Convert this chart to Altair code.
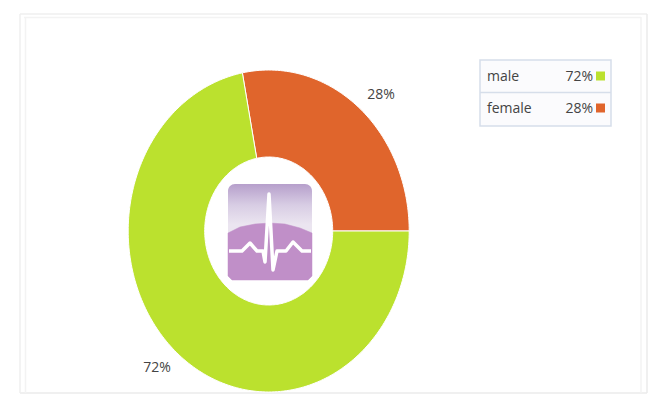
import math
import altair as alt
import pandas as pd

categories = ["female", "male"]
shares = [28, 72]
colors = ["#e0652c", "#bbe12e"]
legend_order = ["male", "female"]
legend_shares = [72, 28]
legend_colors = ["#bbe12e", "#e0652c"]

# ECG trace and dome outline of the icon
ecg_x = [229, 242, 250, 257, 263, 265, 269, 273, 277, 286, 293, 302, 311]
ecg_y = [251, 251, 243, 251, 251, 262, 194, 270, 251, 251, 242, 251, 251]
dome_x = [228, 240, 255, 270, 285, 300, 312]
dome_y = [233, 227, 224, 223, 224, 228, 233]

CX, CY, RX, RY = 268.7, 231, 140.5, 161
HX, HY = 64, 74

X = alt.X("x:Q", scale=alt.Scale(domain=[8, 661], range=[0, 653]), axis=None)
Y = alt.Y("y:Q", scale=alt.Scale(domain=[8, 402], range=[0, 394]), axis=None)


def ring_rows():
    rows, start = [], 0.0
    for cat, share in zip(categories, shares):
        sweep = share / sum(shares) * 2 * math.pi
        n = max(3, int(share * 3))
        angs = [start + sweep * i / n for i in range(n + 1)]
        pts = [(CX + RX * math.cos(a), CY - RY * math.sin(a)) for a in angs]
        pts += [(CX + HX * math.cos(a), CY - HY * math.sin(a)) for a in reversed(angs)]
        pts.append(pts[0])
        rows += [{"cat": cat, "i": i, "x": p[0], "y": p[1]} for i, p in enumerate(pts)]
        start += sweep
    return pd.DataFrame(rows)


def frame(x0, y0, x1, y1, color, fill=None):
    kw = {"fill": fill} if fill else {"fillOpacity": 0}
    return alt.Chart(pd.DataFrame({"x": [x0], "x2": [x1], "y": [y0], "y2": [y1]})).mark_rect(
        stroke=color, strokeWidth=1.5, **kw
    ).encode(x=X, x2="x2:Q", y=Y, y2="y2:Q")


def hline(x0, x1, y, color, width=1.5):
    return alt.Chart(pd.DataFrame({"x": [x0], "x2": [x1], "y": [y]})).mark_rule(
        color=color, strokeWidth=width
    ).encode(x=X, x2="x2:Q", y=Y)


def vline(x, y0, y1, color, width=1.5):
    return alt.Chart(pd.DataFrame({"x": [x], "y": [y0], "y2": [y1]})).mark_rule(
        color=color, strokeWidth=width
    ).encode(x=X, y=Y, y2="y2:Q")


ring = alt.Chart(ring_rows()).mark_line(stroke="white", strokeWidth=1, interpolate="linear").encode(
    x=X, y=Y, order="i:Q", detail="cat:N",
    fill=alt.Fill("cat:N", scale=alt.Scale(domain=categories, range=colors), legend=None),
)

icon_bg = alt.Chart(pd.DataFrame({"x": [228], "x2": [312], "y": [184], "y2": [280]})).mark_rect(
    cornerRadius=7,
    fill=alt.Gradient(
        gradient="linear", x1=0, y1=0, x2=0, y2=1,
        stops=[
            alt.GradientStop(color="#b69fcb", offset=0),
            alt.GradientStop(color="#d8cde4", offset=0.22),
            alt.GradientStop(color="#ebe5f0", offset=0.42),
            alt.GradientStop(color="#ebe5f0", offset=1),
        ],
    ),
).encode(x=X, x2="x2:Q", y=Y, y2="y2:Q")

dome_rows = list(zip(dome_x, dome_y)) + [(312, 276), (308, 280), (232, 280), (228, 276), (228, 233)]
dome = alt.Chart(
    pd.DataFrame({"i": range(len(dome_rows)), "x": [p[0] for p in dome_rows], "y": [p[1] for p in dome_rows]})
).mark_line(fill="#c08fc8", stroke="#c08fc8", strokeWidth=0.5, interpolate="linear").encode(x=X, y=Y, order="i:Q")

ecg = alt.Chart(pd.DataFrame({"i": range(len(ecg_x)), "x": ecg_x, "y": ecg_y})).mark_line(
    color="white", strokeWidth=3.5, strokeJoin="round"
).encode(x=X, y=Y, order="i:Q")

base_font = dict(font="Open Sans", fontSize=14, color="#444444")

pct = alt.Chart(pd.DataFrame({"x": [381, 157], "y": [95, 368], "t": ["28%", "72%"]})).mark_text(
    align="center", baseline="middle", **base_font
).encode(x=X, y=Y, text="t:N")

row_y = [76, 108]
text_y = [77, 109]
leg_names = alt.Chart(pd.DataFrame({"x": [487, 487], "y": text_y, "t": legend_order})).mark_text(
    align="left", baseline="middle", **base_font
).encode(x=X, y=Y, text="t:N")
leg_vals = alt.Chart(
    pd.DataFrame({"x": [593, 593], "y": text_y, "t": [f"{v}%" for v in legend_shares]})
).mark_text(align="right", baseline="middle", **base_font).encode(x=X, y=Y, text="t:N")
leg_sw = alt.Chart(
    pd.DataFrame({
        "x": [596, 596], "x2": [605, 605],
        "y": [y - 4.5 for y in row_y], "y2": [y + 4.5 for y in row_y],
        "cat": legend_order,
    })
).mark_rect().encode(
    x=X, x2="x2:Q", y=Y, y2="y2:Q",
    fill=alt.Fill("cat:N", scale=alt.Scale(domain=legend_order, range=legend_colors), legend=None),
)

chart = alt.layer(
    hline(20, 647, 14, "#efefef"),
    hline(24, 641, 17.5, "#f3f3f3"),
    hline(20, 647, 393, "#ebebeb"),
    vline(20, 14, 393, "#efefef"),
    vline(25.5, 17, 393, "#f3f3f3"),
    vline(641, 17, 393, "#f3f3f3"),
    vline(647, 14, 393, "#ebebeb"),
    ring,
    icon_bg,
    dome,
    ecg,
    pct,
    frame(480, 60, 611, 126, "#d6deea", fill="#fbfbfd"),
    hline(480, 611, 92.5, "#d6deea"),
    leg_names,
    leg_vals,
    leg_sw,
).resolve_scale(fill="independent").properties(
    width=653, height=394, padding=0, autosize=alt.AutoSizeParams(type="none")
).configure_view(stroke=None)

chart.save("out.html", embed_options={"renderer": "svg", "actions": False})
